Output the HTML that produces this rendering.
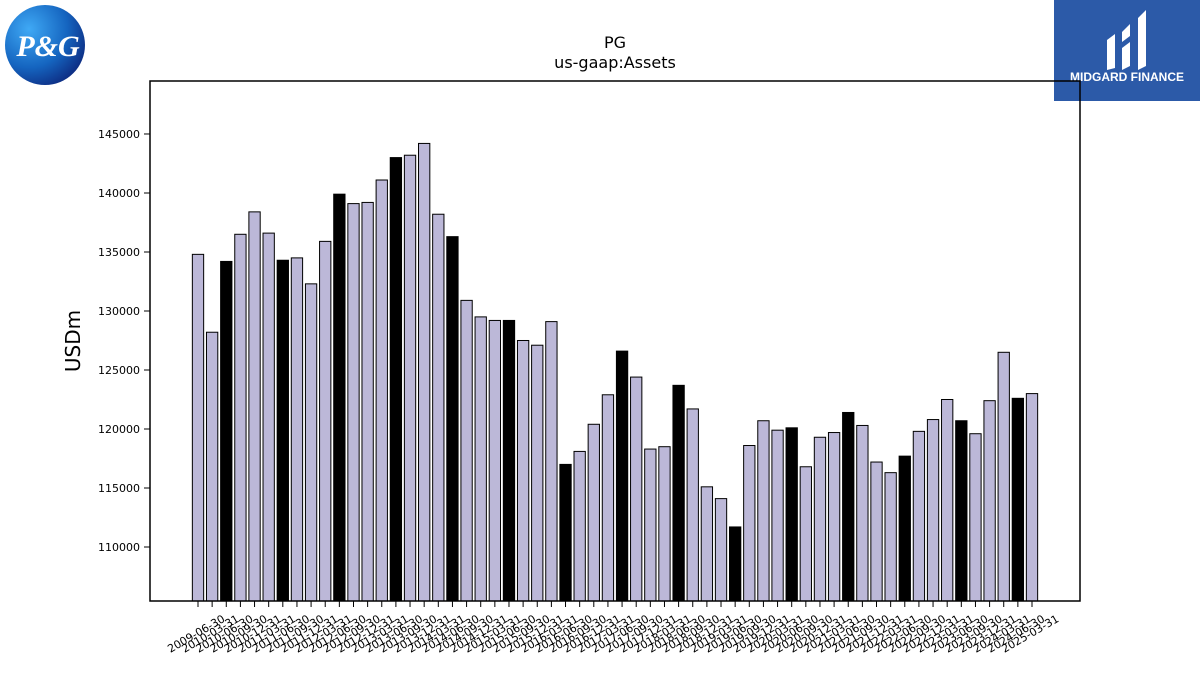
<!DOCTYPE html>
<html><head><meta charset="utf-8"><style>
body{margin:0;background:#fff;font-family:"DejaVu Sans","Liberation Sans",sans-serif;}
#wrap{position:relative;width:1200px;height:675px;overflow:hidden;}
</style></head><body>
<div id="wrap">
<svg id="chart" width="1200" height="675">
  <defs>
    <radialGradient id="pg" cx="0.3" cy="0.3" r="0.8"><stop offset="0" stop-color="#3fa9f5"/><stop offset="0.6" stop-color="#1565c0"/><stop offset="1" stop-color="#0d2a80"/></radialGradient>
  </defs>
  <g>
    <circle cx="45" cy="45" r="40" fill="url(#pg)"/>
    <text x="48" y="56" text-anchor="middle" font-family="Liberation Serif,serif" font-style="italic" font-weight="bold" font-size="30" fill="#fff">P&amp;G</text>
  </g>
  <g>
    <rect x="1054" y="0" width="146" height="101" fill="#2c5aa8"/>
    <path d="M1107 40 l8 -6 v34 l-8 2z M1122 32 l8 -8 v12 l-8 6z M1122 48 l8 -6 v24 l-8 4z M1138 18 l8 -8 v56 l-8 4z" fill="#fff"/>
    <text x="1127" y="81" text-anchor="middle" font-family="Liberation Sans,sans-serif" font-weight="bold" font-size="12" fill="#fff">MIDGARD FINANCE</text>
  </g>
  <text x="615" y="48" text-anchor="middle" font-size="16">PG</text>
  <text x="615" y="68" text-anchor="middle" font-size="16">us-gaap:Assets</text>
  <text transform="translate(80,341) rotate(-90)" text-anchor="middle" font-size="20">USDm</text>
  <g id="plot"></g>
</svg>
</div>
<script>
const categories=["2009-06-30","2010-03-31","2010-06-30","2010-09-30","2010-12-31","2011-03-31","2011-06-30","2011-09-30","2011-12-31","2012-03-31","2012-06-30","2012-09-30","2012-12-31","2013-03-31","2013-06-30","2013-09-30","2013-12-31","2014-03-31","2014-06-30","2014-09-30","2014-12-31","2015-03-31","2015-06-30","2015-09-30","2015-12-31","2016-03-31","2016-06-30","2016-09-30","2016-12-31","2017-03-31","2017-06-30","2017-09-30","2017-12-31","2018-03-31","2018-06-30","2018-09-30","2018-12-31","2019-03-31","2019-06-30","2019-09-30","2019-12-31","2020-03-31","2020-06-30","2020-09-30","2020-12-31","2021-03-31","2021-06-30","2021-09-30","2021-12-31","2022-03-31","2022-06-30","2022-09-30","2022-12-31","2023-03-31","2023-06-30","2023-09-30","2023-12-31","2024-03-31","2024-06-30","2025-03-31"];
const values=[134800,128200,134200,136500,138400,136600,134300,134500,132300,135900,139900,139100,139200,141100,143000,143200,144200,138200,136300,130900,129500,129200,129200,127500,127100,129100,117000,118100,120400,122900,126600,124400,118300,118500,123700,121700,115100,114100,111700,118600,120700,119900,120100,116800,119300,119700,121400,120300,117200,116300,117700,119800,120800,122500,120700,119600,122400,126500,122600,123000];
const yTicks=[110000,115000,120000,125000,130000,135000,140000,145000];
const ns="http://www.w3.org/2000/svg";
const L=150,R=1080,T=81,B=601;
const yMin=105424,yMax=149490;
function y(v){return B-(v-yMin)/(yMax-yMin)*(B-T);}
const n=categories.length;
const x0=198,x1=1032;
const step=(x1-x0)/(n-1);
function x(i){return x0+step*i;}
const plot=document.getElementById('plot');
function mk(tag,attrs){const e=document.createElementNS(ns,tag);for(const k in attrs)e.setAttribute(k,attrs[k]);plot.appendChild(e);return e;}
values.forEach((v,i)=>{
  const w=step*0.8;
  const r=mk('rect',{x:x(i)-w/2,y:y(v),width:w,height:B-y(v),fill:categories[i].endsWith('06-30')&&i>0?'#000':'#bcb8d8',stroke:'#000','stroke-width':1});
  
  
  mk('line',{x1:x(i),x2:x(i),y1:B,y2:B+6,stroke:'#000'});
  const ly=B+36;
  const t=mk('text',{x:x(i),y:ly,'text-anchor':'middle','font-size':11,transform:`rotate(-30 ${x(i)} ${ly})`});
  t.textContent=categories[i];
  
  
});
yTicks.forEach(v=>{
  mk('line',{x1:L-6,x2:L,y1:y(v),y2:y(v),stroke:'#000'});
  const t=mk('text',{x:L-10,y:y(v)+4,'text-anchor':'end','font-size':11});
  t.textContent=v;
  
  
});
const f=mk('rect',{x:L,y:T,width:R-L,height:B-T,fill:'none',stroke:'#000','stroke-width':1.5});


</script>
</body></html>
